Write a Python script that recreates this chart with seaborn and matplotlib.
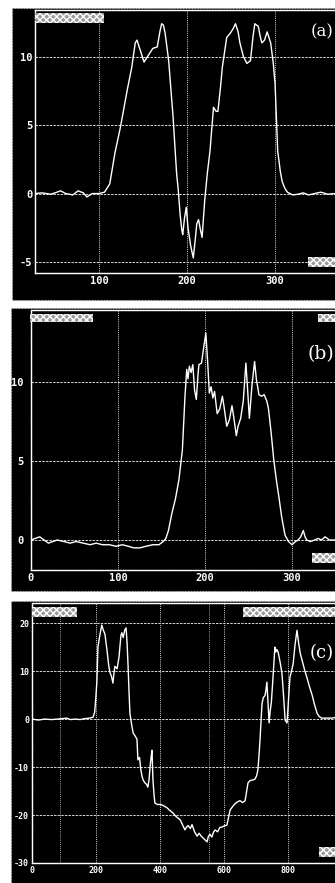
import matplotlib
matplotlib.use("Agg")
import matplotlib.pyplot as plt
from matplotlib.patches import Rectangle
import seaborn as sns

# ---- data ----
xa = [27, 35, 45, 52, 56, 62, 70, 76, 82, 86, 92, 100, 106, 108, 112, 118, 124,
      132, 137, 141, 143, 147, 151, 155, 158, 161, 166, 169, 171, 173, 175, 179,
      184, 188, 190, 192, 194, 195, 197, 199, 201, 204, 207, 209, 211, 213, 215,
      217, 220, 223, 226, 230, 233, 235, 238, 240, 245, 249, 252, 255, 258, 260,
      264, 268, 272, 275, 277, 279, 281, 283, 285, 288, 291, 295, 298, 300, 303,
      306, 308, 311, 314, 320, 326, 332, 338, 345, 352, 360, 368, 380]
ya = [0.0, 0.05, -0.05, 0.1, 0.2, 0.0, -0.1, 0.2, 0.05, -0.25, 0.0, 0.0, 0.1,
      0.3, 0.7, 3.0, 4.8, 7.6, 9.2, 11.0, 11.2, 10.4, 9.6, 10.0, 10.3, 10.6, 10.7,
      11.8, 12.4, 12.3, 11.7, 9.7, 5.6, 1.5, 0.2, -1.5, -2.7, -3.0, -1.8, -1.0,
      -2.5, -3.8, -4.7, -3.5, -2.2, -1.9, -2.6, -3.2, -0.5, 1.5, 3.1, 6.3, 6.0,
      6.0, 7.8, 9.2, 11.4, 11.7, 12.0, 12.4, 11.8, 11.0, 10.0, 9.5, 9.7, 11.5,
      12.4, 12.3, 12.2, 11.5, 11.0, 11.2, 11.8, 11.0, 9.5, 8.0, 3.1, 1.6, 0.9,
      0.4, 0.1, -0.1, -0.05, 0.05, -0.1, 0.0, 0.1, -0.05, 0.0, 0.0]

xb = [0, 5, 10, 15, 20, 25, 30, 38, 45, 52, 60, 68, 75, 82, 90, 98, 105, 112,
      118, 125, 132, 140, 147, 152, 155, 158, 162, 166, 170, 174, 177, 179, 180.5,
      182, 184, 186, 188, 190, 192, 193, 196, 198, 201, 203, 205, 207, 209, 211,
      214, 217, 220, 222, 225, 228, 231, 233, 236, 238, 241, 244, 247, 249, 251,
      254, 257, 259, 262, 265, 268, 271, 273, 276, 279, 282, 285, 288, 292, 296,
      300, 304, 307, 310, 313, 315, 317, 321, 326, 330, 334, 338, 343, 347, 360]
yb = [0.0, 0.1, 0.2, 0.0, -0.2, -0.1, 0.0, -0.1, -0.2, -0.1, -0.2, -0.3, -0.2,
      -0.3, -0.3, -0.4, -0.3, -0.4, -0.5, -0.5, -0.4, -0.3, -0.3, -0.1, 0.1, 0.6,
      1.7, 2.6, 3.8, 5.7, 9.1, 10.8, 10.2, 11.0, 10.6, 11.1, 9.5, 8.9, 10.5, 11.1,
      11.2, 12.0, 13.1, 11.3, 9.3, 9.7, 9.0, 9.4, 8.0, 8.3, 9.1, 8.4, 7.2, 7.6,
      8.5, 7.8, 6.6, 7.2, 7.7, 8.8, 11.2, 9.5, 7.7, 9.8, 11.3, 10.2, 9.2, 9.1,
      9.2, 8.8, 8.3, 6.8, 5.1, 3.8, 2.7, 1.5, 0.3, -0.1, -0.3, -0.1, 0.0, 0.2,
      0.6, 0.2, 0.0, -0.1, 0.0, 0.1, 0.0, 0.2, 0.0, 0.0, 0.0]

xc = [0, 20, 40, 60, 80, 95, 109, 120, 135, 150, 165, 180, 191, 196, 200, 203,
      206, 212, 218, 223, 228, 235, 240, 244, 248, 253, 256, 259, 266, 272, 278,
      281, 285, 290, 294, 297, 300, 303, 306, 311, 316, 322, 328, 331, 336, 340,
      344, 348, 353, 358, 362, 366, 369, 372, 375, 378, 381, 384, 392, 400, 410,
      422, 430, 441, 450, 463, 470, 478, 483, 488, 495, 500, 508, 516, 522, 530,
      538, 547, 551, 556, 562, 567, 572, 580, 587, 594, 600, 609, 614, 619, 625,
      632, 641, 650, 658, 666, 671, 675, 682, 690, 697, 702, 706, 710, 713, 716,
      719, 723, 728, 731, 734, 737, 741, 744, 748, 752, 756, 759, 762, 765, 769,
      775, 781, 786, 791, 794, 797, 801, 806, 811, 816, 822, 828, 833, 838, 843,
      847, 853, 859, 866, 875, 883, 891, 898, 906, 920, 935, 947, 1000]
yc = [0.0, -0.2, 0.0, -0.1, 0.0, 0.1, 0.2, -0.1, 0.0, -0.1, 0.1, 0.2, 0.4, 1.5,
      5.0, 8.1, 15.0, 17.5, 19.6, 18.5, 17.7, 14.0, 11.0, 9.6, 9.0, 7.5, 9.5,
      11.0, 10.5, 13.0, 17.5, 18.0, 17.0, 18.6, 19.0, 16.0, 11.5, 6.0, 1.2, -1.0,
      -2.9, -3.5, -4.2, -8.5, -8.0, -10.5, -12.0, -12.8, -13.3, -13.6, -14.2,
      -12.5, -10.0, -8.0, -6.5, -12.7, -15.5, -17.5, -17.8, -17.8, -18.0, -18.5,
      -19.0, -19.6, -20.3, -21.0, -22.0, -23.1, -22.5, -22.2, -22.8, -22.0,
      -23.5, -24.4, -23.8, -24.5, -25.0, -25.6, -24.5, -24.0, -24.6, -23.6,
      -23.1, -23.5, -22.6, -22.5, -22.3, -22.1, -20.5, -19.0, -18.4, -17.8,
      -17.3, -17.0, -17.4, -17.0, -15.0, -13.3, -12.8, -12.7, -12.5, -11.8,
      -10.6, -7.0, -3.8, 0.0, 3.3, 4.5, 4.9, 6.0, 7.7, 4.0, -0.8, 1.5, 3.5, 7.5,
      12.0, 15.0, 14.0, 14.5, 14.0, 12.0, 9.6, 5.0, -0.2, -0.5, -0.8, 3.5, 8.7,
      10.0, 11.5, 15.5, 18.5, 16.0, 13.8, 12.5, 11.5, 10.0, 8.7, 7.0, 5.1, 3.0,
      1.2, 0.5, 0.2, 0.2, 0.2, 0.3, 0.2]

xticks_a = [100, 200, 300]
yticks_a = [-5, 0, 5, 10]
xticks_b = [0, 100, 200, 300]
yticks_b = [0, 5, 10]
xticks_c = [0, 200, 400, 600, 800]
yticks_c = [-30, -20, -10, 0, 10, 20]
marks_c = [87, 553]
labels = ["(a)", "(b)", "(c)"]

W, H = 335, 883
sns.set_style("dark")
plt.rcParams["axes.unicode_minus"] = False

fig = plt.figure(figsize=(W / 100, H / 100), dpi=100, facecolor="white")


def px_rect(x0, y0, x1, y1):
    return (x0 / W, 1 - y1 / H, (x1 - x0) / W, (y1 - y0) / H)


def panel_box(y0, y1, x0):
    l, b, w, h = px_rect(x0, y0, 420, y1)
    fig.add_artist(Rectangle((l, b), w, h, transform=fig.transFigure,
                             facecolor="black", edgecolor="#bbbbbb",
                             lw=0.8, ls=":", zorder=-5))


def hatch_box(x0, y0, x1, y1):
    l, b, w, h = px_rect(x0, y0, x1, y1)
    fig.add_artist(Rectangle((l, b), w, h, transform=fig.transFigure,
                             facecolor="#9a9a9a", edgecolor="white",
                             hatch="xxxxx", lw=0, zorder=5))


def make_axes(x0, y0, x1, y1, xlim, ylim, xt, yt, fs, ypad):
    ax = fig.add_axes(px_rect(x0, y0, x1, y1))
    ax.set_facecolor("black")
    ax.set_xlim(*xlim)
    ax.set_ylim(*ylim)
    ax.set_xticks(xt)
    ax.set_yticks(yt)
    ax.grid(axis="y", color="#d8d8d8", lw=0.7, ls=(0, (2.5, 1.2)))
    ax.grid(axis="x", color="#d8d8d8", lw=0.7, ls=(0, (1, 1.2)))
    for s in ax.spines.values():
        s.set_visible(True)
        s.set_color("white")
        s.set_linestyle((0, (1, 0.8)))
        s.set_linewidth(1.0)
    ax.tick_params(length=0, colors="white", labelsize=fs)
    ax.tick_params(axis="x", pad=2.5)
    ax.tick_params(axis="y", pad=ypad)
    for t in ax.get_xticklabels() + ax.get_yticklabels():
        t.set_fontfamily("DejaVu Sans Mono")
        t.set_fontweight("bold")
    return ax


# black panel backgrounds
panel_box(8, 300, 12)
panel_box(308, 591, 11)
panel_box(601, 895, 11)

# panel (a)
ax_a = make_axes(35, 10, 363, 273, (27, 400), (-5.8, 13.4),
                 xticks_a, yticks_a, 7.5, 2)
sns.lineplot(x=xa, y=ya, ax=ax_a, color="white", lw=1.0, sort=False)

# panel (b)
ax_b = make_axes(31, 310, 379, 570, (0, 400), (-1.9, 14.56),
                 xticks_b, yticks_b, 7.5, 5.5)
sns.lineplot(x=xb, y=yb, ax=ax_b, color="white", lw=1.0, sort=False)

# panel (c)
ax_c = make_axes(32, 603, 352, 863, (0, 1000), (-30, 24.2),
                 xticks_c, yticks_c, 6, 2)
for m in marks_c:
    ax_c.axvline(m, color="#d8d8d8", lw=0.6, ls=(0, (1, 1.5)))
sns.lineplot(x=xc, y=yc, ax=ax_c, color="white", lw=1.0, sort=False)

for ax in (ax_a, ax_b, ax_c):
    ax.set_xlabel("")
    ax.set_ylabel("")

# censored label boxes
hatch_box(35, 13, 104, 23)
hatch_box(308, 257, 340, 267)
hatch_box(30, 314, 93, 322)
hatch_box(318, 314, 340, 322)
hatch_box(312, 553, 340, 563)
hatch_box(32, 607, 77, 617)
hatch_box(243, 607, 340, 617)
hatch_box(319, 847, 340, 857)

# panel letters
for lab, (xp, yp, fs) in zip(labels, [(334, 32, 12), (334, 354, 13.5), (334, 653, 13)]):
    fig.text(xp / W, 1 - yp / H, lab, ha="right", va="center", color="white",
             fontsize=fs, family="DejaVu Serif")

fig.savefig("out.png", dpi=100, facecolor="white")
